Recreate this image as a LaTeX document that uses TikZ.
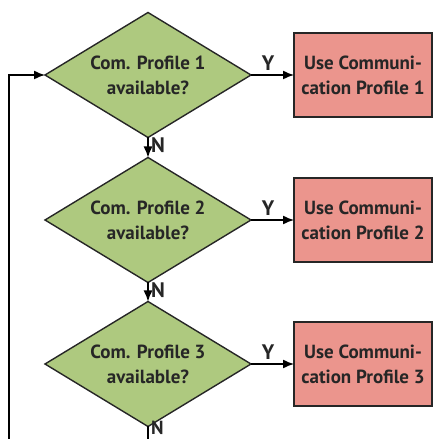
\documentclass[tikz,border=0pt]{standalone}
\usepackage{fontspec}
\setmainfont{PT Sans}
\usepackage{tikz}
\usetikzlibrary{shapes.geometric, arrows, arrows.meta, positioning, calc}

\definecolor{decgreen}{HTML}{AEC97F}
\definecolor{userred}{HTML}{EB958D}

\begin{document}
\begin{tikzpicture}[x=1pt, y=1pt, >={Latex[length=11pt,width=9pt]}, line width=1.4pt,
  decision/.style={diamond, aspect=1.65, draw=black!85, fill=decgreen,
    inner sep=0pt, outer sep=0pt,
    minimum width=206pt, minimum height=125pt, align=center,
    font=\fontsize{19}{25}\selectfont\bfseries, text=black!85},
  useprof/.style={rectangle, draw=black!85, fill=userred, inner sep=0pt,
    outer sep=0pt, minimum width=138pt, minimum height=84pt, align=center,
    font=\fontsize{19}{25}\selectfont\bfseries, text=black!85},
  lbl/.style={font=\fontsize{21}{21}\selectfont\bfseries, text=black!85}]
\useasboundingbox (0,0) rectangle (433,439);

% Decisions
\node[decision] (d1) at (148,364) {Com. Profile 1\\available?};
\node[decision, below=20pt of d1] (d2) {Com. Profile 2\\available?};
\node[decision, below=19pt of d2] (d3) {Com. Profile 3\\available?};

% Profiles to use
\node[useprof, right=43pt of d1] (u1) {Use Communi-\\cation Profile 1};
\node[useprof, right=43pt of d2] (u2) {Use Communi-\\cation Profile 2};
\node[useprof, right=43pt of d3] (u3) {Use Communi-\\cation Profile 3};

% Yes branches
\draw[->] (d1.east) -- node[lbl, above, pos=0.4, inner sep=3.5pt] {Y} (u1.west);
\draw[->] (d2.east) -- node[lbl, above, pos=0.4, inner sep=3.5pt] {Y} (u2.west);
\draw[->] (d3.east) -- node[lbl, above, pos=0.4, inner sep=3.5pt] {Y} (u3.west);

% No branches
\draw[->] (d1.south) -- node[lbl, right, pos=0.4, inner sep=2.5pt] {N} (d2.north);
\draw[->] (d2.south) -- node[lbl, right, pos=0.4, inner sep=2.5pt] {N} (d3.north);
\coordinate (out) at (d3.south |- 0,0);
\draw (d3.south) -- node[lbl, font=\fontsize{19}{19}\selectfont\bfseries, right,
  pos=0.12, inner xsep=2.5pt, inner ysep=0pt] {N} (out);

% Back to start
\coordinate (loop) at (9,0);
\draw[->] (loop) |- (d1.west);
\end{tikzpicture}
\end{document}
